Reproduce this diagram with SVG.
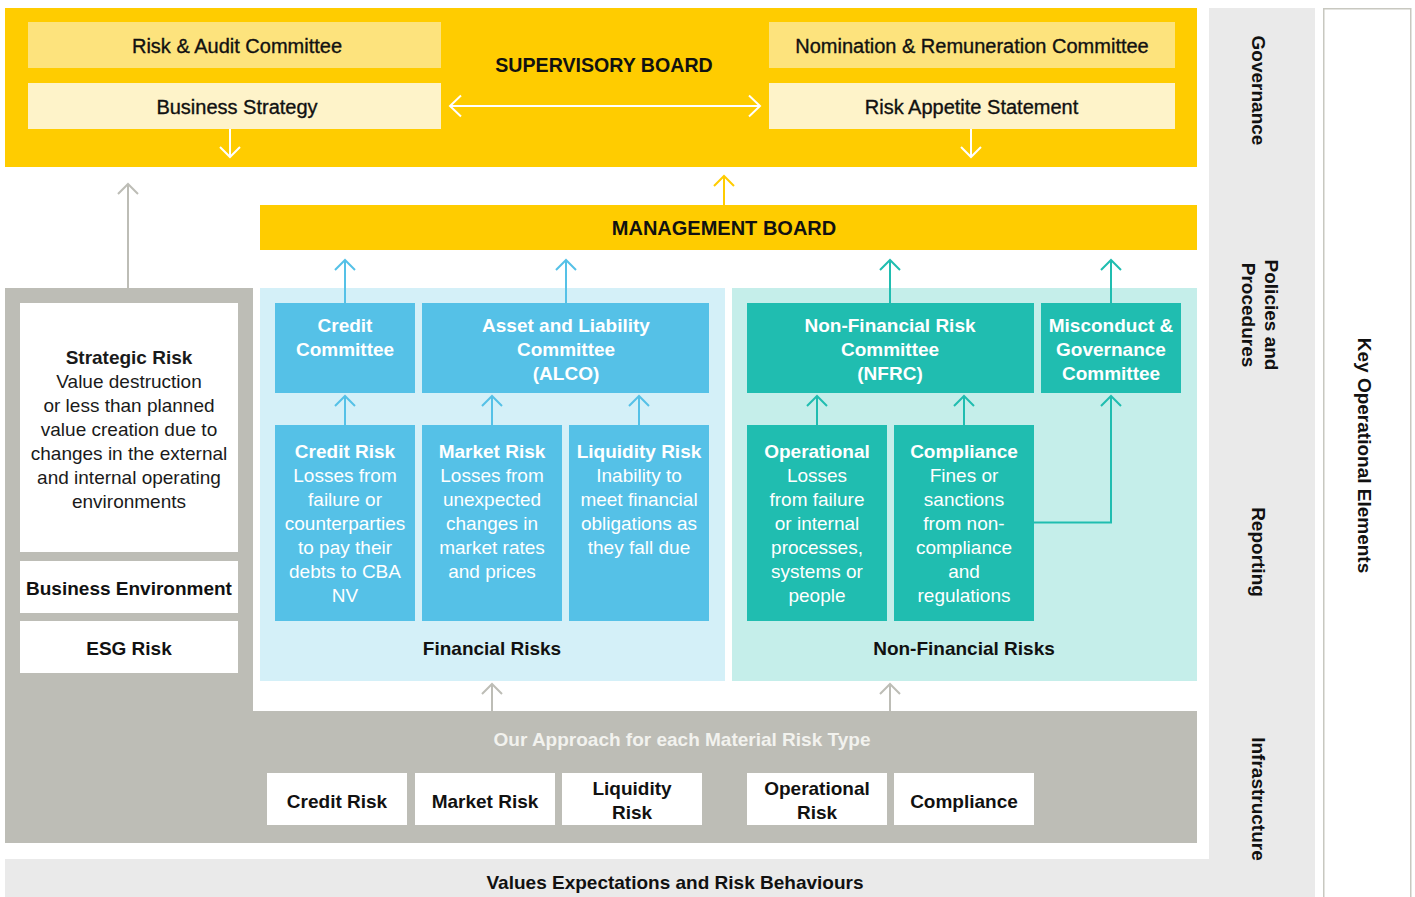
<svg xmlns="http://www.w3.org/2000/svg" width="1415" height="897" viewBox="0 0 1415 897">
  <style>
    text { font-family: "Liberation Sans", Arial, sans-serif; font-size: 19px; text-anchor: middle; }
    .b { font-weight: bold; }
    .dark { fill: #111111; }
    .w { fill: #ffffff; }
    .big { font-size: 19.6px; }
    .med { font-size: 20px; fill: #111111; stroke: #111111; stroke-width: 0.35px; }
    .body { fill: #ffffff; }
    .sbody { fill: #1a1a1a; }
    .yel { fill: #FFCC00; }
    .yl1 { fill: #FDE37D; }
    .yl2 { fill: #FEF3C9; }
    .blue { fill: #55C1E7; }
    .lblue { fill: #D4F0F8; }
    .teal { fill: #20BDB0; }
    .lteal { fill: #C5EEEA; }
    .grey { fill: #BDBDB6; }
    .lgrey { fill: #EAEAEA; }
    .wbox { fill: #ffffff; }
    .ln { fill: none; stroke-width: 2; stroke-linecap: butt; stroke-linejoin: miter; }
    .c-blue { stroke: #55C1E7; }
    .c-teal { stroke: #20BDB0; }
    .c-grey { stroke: #BDBDB6; }
    .c-yel { stroke: #FFCC00; }
    .c-white { stroke: #FFFFFF; }
  </style>

  <!-- background -->
  <rect x="0" y="0" width="1415" height="897" fill="#ffffff"/>

  <!-- side bands: key operational elements -->
  <g id="side-bands">
    <rect class="lgrey" x="1209" y="8" width="106" height="889"/>
    <rect class="lgrey" x="5" y="859" width="1310" height="38"/>
    <rect x="1323.75" y="8.75" width="87" height="895" fill="#ffffff" stroke="#C8C8C0" stroke-width="1.5"/>
  </g>

  <!-- supervisory board -->
  <g id="supervisory-board">
    <rect class="yel" x="5" y="8" width="1192" height="159"/>
    <text class="b dark big" x="604" y="72">SUPERVISORY BOARD</text>
  </g>
  <g id="risk-audit-committee">
    <rect class="yl1" x="28" y="22" width="413" height="46"/>
    <text class="med" x="237" y="53">Risk &amp; Audit Committee</text>
  </g>
  <g id="business-strategy">
    <rect class="yl2" x="28" y="83" width="413" height="46"/>
    <text class="med" x="237" y="113.5">Business Strategy</text>
  </g>
  <g id="nomination-remuneration-committee">
    <rect class="yl1" x="769" y="22" width="406" height="46"/>
    <text class="med" x="972" y="53">Nomination &amp; Remuneration Committee</text>
  </g>
  <g id="risk-appetite-statement">
    <rect class="yl2" x="769" y="83" width="406" height="46"/>
    <text class="med" x="971.5" y="113.5">Risk Appetite Statement</text>
  </g>

  <!-- management board -->
  <g id="management-board">
    <rect class="yel" x="260" y="205" width="937" height="45"/>
    <text class="b dark" x="724" y="235" style="font-size:20px">MANAGEMENT BOARD</text>
  </g>

  <!-- left strategic column and approach panel -->
  <g id="strategic-panel">
    <path class="grey" d="M5 288 H253 V711 H1197 V843 H5 Z"/>
  </g>
  <g id="strategic-risk">
    <rect class="wbox" x="20" y="303" width="218" height="249"/>
    <text class="b sbody" x="129" y="364">Strategic Risk</text>
    <text class="sbody" x="129" y="388">Value destruction</text>
    <text class="sbody" x="129" y="412">or less than planned</text>
    <text class="sbody" x="129" y="436">value creation due to</text>
    <text class="sbody" x="129" y="460">changes in the external</text>
    <text class="sbody" x="129" y="484">and internal operating</text>
    <text class="sbody" x="129" y="508">environments</text>
  </g>
  <g id="business-environment">
    <rect class="wbox" x="20" y="561" width="218" height="52"/>
    <text class="b dark" x="129" y="595">Business Environment</text>
  </g>
  <g id="esg-risk">
    <rect class="wbox" x="20" y="621" width="218" height="52"/>
    <text class="b dark" x="129" y="655">ESG Risk</text>
  </g>

  <!-- financial risks -->
  <g id="financial-risks">
    <rect class="lblue" x="260" y="288" width="465" height="393"/>
    <text class="b dark" x="492" y="655">Financial Risks</text>
  </g>
  <g id="credit-committee">
    <rect class="blue" x="275" y="303" width="140" height="90"/>
    <text class="b w" x="345" y="332">Credit</text>
    <text class="b w" x="345" y="356">Committee</text>
  </g>
  <g id="alco">
    <rect class="blue" x="422" y="303" width="287" height="90"/>
    <text class="b w" x="566" y="332">Asset and Liability</text>
    <text class="b w" x="566" y="356">Committee</text>
    <text class="b w" x="566" y="380">(ALCO)</text>
  </g>
  <g id="credit-risk">
    <rect class="blue" x="275" y="425" width="140" height="196"/>
    <text class="b w" x="345" y="458">Credit Risk</text>
    <text class="body" x="345" y="482">Losses from</text>
    <text class="body" x="345" y="506">failure or</text>
    <text class="body" x="345" y="530">counterparties</text>
    <text class="body" x="345" y="554">to pay their</text>
    <text class="body" x="345" y="578">debts to CBA</text>
    <text class="body" x="345" y="602">NV</text>
  </g>
  <g id="market-risk">
    <rect class="blue" x="422" y="425" width="140" height="196"/>
    <text class="b w" x="492" y="458">Market Risk</text>
    <text class="body" x="492" y="482">Losses from</text>
    <text class="body" x="492" y="506">unexpected</text>
    <text class="body" x="492" y="530">changes in</text>
    <text class="body" x="492" y="554">market rates</text>
    <text class="body" x="492" y="578">and prices</text>
  </g>
  <g id="liquidity-risk">
    <rect class="blue" x="569" y="425" width="140" height="196"/>
    <text class="b w" x="639" y="458">Liquidity Risk</text>
    <text class="body" x="639" y="482">Inability to</text>
    <text class="body" x="639" y="506">meet financial</text>
    <text class="body" x="639" y="530">obligations as</text>
    <text class="body" x="639" y="554">they fall due</text>
  </g>

  <!-- non-financial risks -->
  <g id="non-financial-risks">
    <rect class="lteal" x="732" y="288" width="465" height="393"/>
    <text class="b dark" x="964" y="655">Non-Financial Risks</text>
  </g>
  <g id="nfrc">
    <rect class="teal" x="747" y="303" width="287" height="90"/>
    <text class="b w" x="890" y="332">Non-Financial Risk</text>
    <text class="b w" x="890" y="356">Committee</text>
    <text class="b w" x="890" y="380">(NFRC)</text>
  </g>
  <g id="misconduct-governance-committee">
    <rect class="teal" x="1041" y="303" width="140" height="90"/>
    <text class="b w" x="1111" y="332">Misconduct &amp;</text>
    <text class="b w" x="1111" y="356">Governance</text>
    <text class="b w" x="1111" y="380">Committee</text>
  </g>
  <g id="operational-risk">
    <rect class="teal" x="747" y="425" width="140" height="196"/>
    <text class="b w" x="817" y="458">Operational</text>
    <text class="body" x="817" y="482">Losses</text>
    <text class="body" x="817" y="506">from failure</text>
    <text class="body" x="817" y="530">or internal</text>
    <text class="body" x="817" y="554">processes,</text>
    <text class="body" x="817" y="578">systems or</text>
    <text class="body" x="817" y="602">people</text>
  </g>
  <g id="compliance-risk">
    <rect class="teal" x="894" y="425" width="140" height="196"/>
    <text class="b w" x="964" y="458">Compliance</text>
    <text class="body" x="964" y="482">Fines or</text>
    <text class="body" x="964" y="506">sanctions</text>
    <text class="body" x="964" y="530">from non-</text>
    <text class="body" x="964" y="554">compliance</text>
    <text class="body" x="964" y="578">and</text>
    <text class="body" x="964" y="602">regulations</text>
  </g>

  <!-- approach per material risk type -->
  <g id="approach">
    <text class="b" x="682" y="746" fill="#F2F2EE">Our Approach for each Material Risk Type</text>
  </g>
  <g id="approach-credit">
    <rect class="wbox" x="267" y="773" width="140" height="52"/>
    <text class="b dark" x="337" y="808">Credit Risk</text>
  </g>
  <g id="approach-market">
    <rect class="wbox" x="415" y="773" width="140" height="52"/>
    <text class="b dark" x="485" y="808">Market Risk</text>
  </g>
  <g id="approach-liquidity">
    <rect class="wbox" x="562" y="773" width="140" height="52"/>
    <text class="b dark" x="632" y="795">Liquidity</text>
    <text class="b dark" x="632" y="819">Risk</text>
  </g>
  <g id="approach-operational">
    <rect class="wbox" x="747" y="773" width="140" height="52"/>
    <text class="b dark" x="817" y="795">Operational</text>
    <text class="b dark" x="817" y="819">Risk</text>
  </g>
  <g id="approach-compliance">
    <rect class="wbox" x="894" y="773" width="140" height="52"/>
    <text class="b dark" x="964" y="808">Compliance</text>
  </g>

  <!-- values band -->
  <g id="values">
    <text class="b dark" x="675" y="889">Values Expectations and Risk Behaviours</text>
  </g>

  <!-- key operational elements labels -->
  <g id="governance">
    <text class="b dark" transform="translate(1252 90.5) rotate(90)">Governance</text>
  </g>
  <g id="policies-procedures">
    <g transform="translate(1265 315) rotate(90)">
      <text class="b dark" x="0" y="0">Policies and</text>
      <text class="b dark" x="0" y="23">Procedures</text>
    </g>
  </g>
  <g id="reporting">
    <text class="b dark" transform="translate(1252 552) rotate(90)">Reporting</text>
  </g>
  <g id="infrastructure">
    <text class="b dark" transform="translate(1252 799) rotate(90)">Infrastructure</text>
  </g>
  <g id="key-operational-elements">
    <text class="b dark" transform="translate(1358 455.5) rotate(90)">Key Operational Elements</text>
  </g>

  <!-- connectors -->
  <g id="connectors">
    <!-- strategy / appetite link -->
    <path class="ln c-white" d="M450 106 H760 M461 95.5 L450 106 L461 116.5 M749 95.5 L760 106 L749 116.5"/>
    <!-- board outputs -->
    <path class="ln c-white" d="M230 129 V157 M220 147 L230 157 L240 147"/>
    <path class="ln c-white" d="M971 129 V157 M961 147 L971 157 L981 147"/>
    <!-- management to supervisory -->
    <path class="ln c-yel" d="M724 205 V176 M714 186 L724 176 L734 186"/>
    <!-- strategic to supervisory -->
    <path class="ln c-grey" d="M128 288 V184 M118 194 L128 184 L138 194"/>
    <!-- committees to management board -->
    <path class="ln c-blue" d="M345 303 V260 M335 270 L345 260 L355 270"/>
    <path class="ln c-blue" d="M566 303 V260 M556 270 L566 260 L576 270"/>
    <path class="ln c-teal" d="M890 303 V260 M880 270 L890 260 L900 270"/>
    <path class="ln c-teal" d="M1111 303 V260 M1101 270 L1111 260 L1121 270"/>
    <!-- risks to committees -->
    <path class="ln c-blue" d="M345 425 V396 M335 406 L345 396 L355 406"/>
    <path class="ln c-blue" d="M492 425 V396 M482 406 L492 396 L502 406"/>
    <path class="ln c-blue" d="M639 425 V396 M629 406 L639 396 L649 406"/>
    <path class="ln c-teal" d="M817 425 V396 M807 406 L817 396 L827 406"/>
    <path class="ln c-teal" d="M964 425 V396 M954 406 L964 396 L974 406"/>
    <path class="ln c-teal" d="M1034 522.5 H1111 V396 M1101 406 L1111 396 L1121 406"/>
    <!-- approach to risk groups -->
    <path class="ln c-grey" d="M492 711 V684 M482 694 L492 684 L502 694"/>
    <path class="ln c-grey" d="M890 711 V684 M880 694 L890 684 L900 694"/>
  </g>
</svg>
